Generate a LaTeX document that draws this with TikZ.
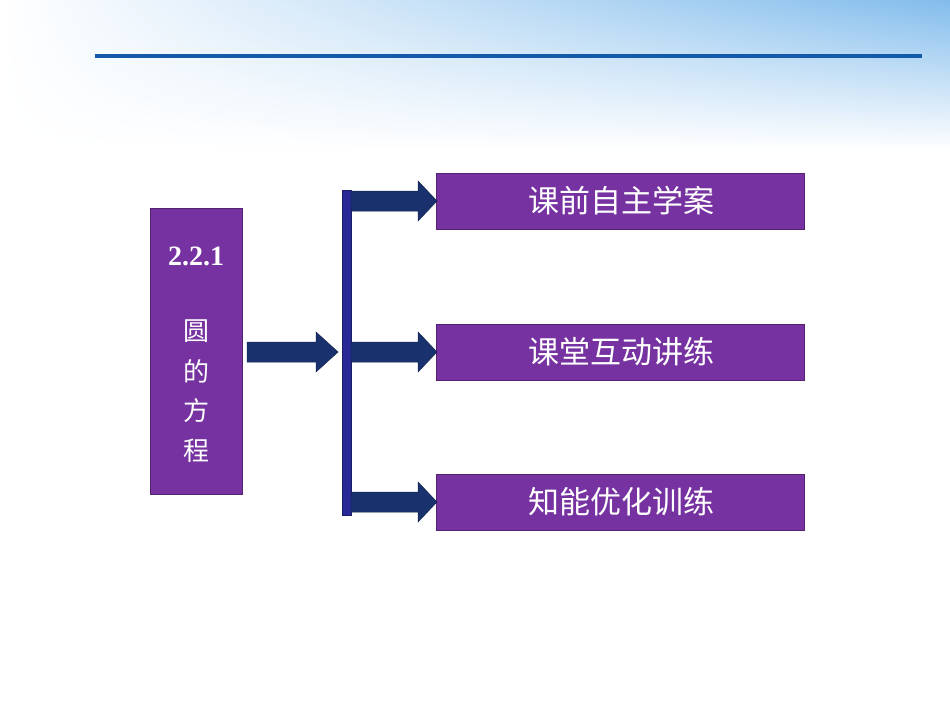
\documentclass[tikz,border=0pt]{standalone}
\usepackage{fontspec}
\setmainfont{Liberation Serif}
\newfontfamily\cjk[AutoFakeBold=2]{Noto Sans CJK SC}
\newfontfamily\cjkl{Noto Sans CJK SC}
\usetikzlibrary{shadings}
\definecolor{purp}{RGB}{118,50,160}
\definecolor{navy}{RGB}{25,50,110}
\definecolor{barblue}{RGB}{40,40,150}
\definecolor{lineblue}{RGB}{20,90,170}
\definecolor{skyblue}{RGB}{130,188,236}
\tikzset{
 pbox/.style={fill=purp,draw=purp!70!black,line width=0.8pt},
 arr/.style={fill=navy,draw=navy!70!black,line width=0.5pt},
}
\begin{document}
\begin{tikzpicture}[x=1pt,y=-1pt]
\useasboundingbox (0,0) rectangle (950,713);
\fill[white] (0,0) rectangle (950,713);
\shade[upper left=white,upper right=skyblue,lower left=white,lower right=white] (0,0) rectangle (950,150);
\fill[lineblue] (95,54) rectangle (922,58);
% left box
\node[pbox,minimum width=92pt,minimum height=286pt,anchor=north west,inner sep=0] (L) at (150,208) {};
\node[text=white,font=\bfseries\fontsize{28}{28}\selectfont] (num) at (196,256) {2.2.1};
\foreach \c/\y [count=\i] in {圆/331,的/371,方/411,程/451}
  \node[text=white,font=\cjkl\fontsize{26}{26}\selectfont] (c\i) at (196,\y) {\c};
% main arrow
\draw[arr] (247,342) -- (316,342) -- (316,332) -- (338,352) -- (316,372) -- (316,362) -- (247,362) -- cycle;
% vertical bar
\fill[barblue,draw=barblue!70!black] (342,190) rectangle (351,515);
% right boxes
\foreach \t/\y [count=\i] in {课前自主学案/173,课堂互动讲练/324,知能优化训练/474}{
  \node[pbox,minimum width=368pt,minimum height=56pt,anchor=north west,inner sep=0] (R\i) at (436,\y) {};
  \node[text=white,font=\cjk\fontsize{31}{31}\selectfont] (t\i) at (621,\y+28) {\t};
  \draw[arr] (351,\y+18) -- (418,\y+18) -- (418,\y+8) -- (437,\y+28) -- (418,\y+48) -- (418,\y+38) -- (351,\y+38) -- cycle;
}
\end{tikzpicture}
\end{document}
